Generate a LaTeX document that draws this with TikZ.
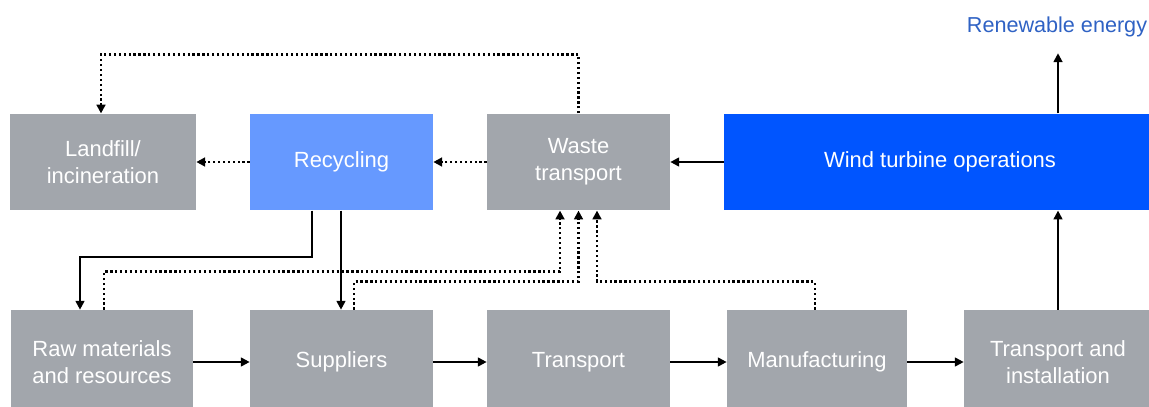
\documentclass[tikz,border=0pt]{standalone}
\usetikzlibrary{arrows.meta}
\usepackage{fontspec}
\setmainfont{Liberation Sans}

\definecolor{boxgrey}{HTML}{A2A6AC}
\definecolor{recblue}{HTML}{6699FF}
\definecolor{windblue}{HTML}{0055FF}
\definecolor{energyblue}{HTML}{2F62C4}

\tikzset{
  stage/.style={fill=boxgrey, text=white, align=center, inner sep=0pt,
    minimum width=3.66cm, minimum height=1.93cm,
    font=\fontsize{12.5}{15.3}\selectfont},
  flow/.style={line width=1.1pt, -{Triangle[length=5pt,width=5pt]}},
  waste/.style={flow, line width=1.4pt, dash pattern=on 1.3pt off 1.5pt}
}

\begin{document}
\begin{tikzpicture}[x=0.02cm, y=-0.02cm]
      \useasboundingbox (0,0) rectangle (1149,406);

      \node[text=energyblue, font=\fontsize{12.3}{14}\selectfont] (ren) at (1057,27) {Renewable energy};

      \node[stage, minimum width=3.72cm] (land) at (103,162) {Landfill/\\incineration};
      \node[stage, fill=recblue] (rec) at (341.5,162) {Recycling};
      \node[stage] (wst) at (578.5,162) {Waste\\transport};
      \node[stage, fill=windblue, minimum width=8.64cm] (wind) at (940,162) {Wind turbine operations};

      \node[stage, minimum width=3.64cm, minimum height=2.08cm] (raw) at (102,362) {Raw materials\\and resources};
      \node[stage, minimum height=2.08cm] (sup) at (341.5,362) {Suppliers};
      \node[stage, minimum height=2.08cm] (trn) at (578.5,362) {Transport};
      \node[stage, minimum width=3.6cm, minimum height=2.08cm] (man) at (817,362) {Manufacturing};
      \node[stage, minimum width=3.76cm, minimum height=2.08cm] (ti) at (1058,362) {Transport and\\installation};

      % supply chain
      \draw[flow] (raw) -- (sup);
      \draw[flow] (sup) -- (trn);
      \draw[flow] (trn) -- (man);
      \draw[flow] (man) -- (ti);
      \draw[flow] (ti.north) -- (ti.north |- wind.south);
      \draw[flow, shorten >=0.2cm] (ti.north |- wind.north) -- (ren.south -| ti.north);

      % end of life
      \draw[flow] (wind) -- (wst);
      \draw[waste] (wst) -- (rec);
      \draw[waste] (rec) -- (land);
      \draw[waste] (wst.north) -- ++(0,1.18cm) -| ([xshift=-0.04cm]land.north);

      % recycled material back into the chain
      \draw[flow] ([xshift=-0.59cm]rec.south) -- ++(0,-0.92cm) -| ([xshift=-0.44cm]raw.north);
      \draw[flow] ([xshift=-0.01cm]rec.south) -- ([xshift=-0.01cm]sup.north);

      % production waste
      \draw[waste] ([xshift=0.04cm]raw.north) -- ++(0,0.76cm) -| ([xshift=-0.37cm]wst.south);
      \draw[waste] ([xshift=0.25cm]sup.north) -- ++(0,0.56cm) -| (wst.south);
      \draw[waste] ([xshift=-0.04cm]man.north) -- ++(0,0.56cm) -| ([xshift=0.37cm]wst.south);
\end{tikzpicture}
\end{document}
